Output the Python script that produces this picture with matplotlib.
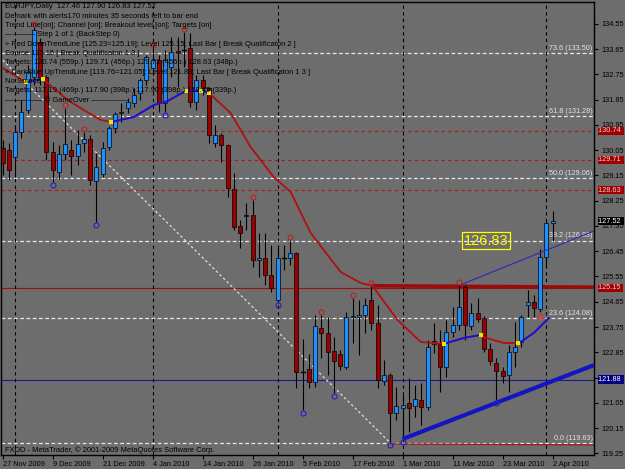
import matplotlib
matplotlib.use("Agg")
import matplotlib.pyplot as plt
import matplotlib.transforms as mtransforms

plt.rcParams['font.family'] = ['Liberation Sans', 'DejaVu Sans']

# daily candles EURJPY, 27 Nov 2009 .. 2 Apr 2010 (bar index 0..88)
opens = [130.13, 130.06, 129.81, 130.70, 131.48, 132.66, 133.90, 132.66, 129.99, 129.27,
         129.91, 130.06, 129.84, 130.31, 130.45, 128.95, 129.20, 130.16, 130.84, 131.37,
         131.55, 131.73, 132.09, 132.55, 132.98, 133.26, 131.73, 133.01, 133.58, 133.62,
         133.69, 131.77, 132.55, 132.26, 130.31, 130.59, 130.23, 128.67, 127.35, 127.74,
         127.74, 126.14, 126.21, 125.60, 124.71, 126.21, 126.21, 126.39, 122.15, 122.25,
         121.79, 123.71, 123.54, 122.90, 122.79, 122.33, 124.11, 124.11, 124.18, 124.71,
         123.89, 121.83, 122.04, 120.69, 120.87, 121.04, 120.94, 121.15, 120.90, 123.25,
         123.14, 122.33, 123.57, 123.82, 125.18, 123.79, 124.25, 124.07, 122.97, 122.47,
         122.18, 122.04, 122.86, 123.22, 124.53, 124.64, 124.39, 126.24, 127.46]
highs = [130.41, 130.31, 130.95, 131.84, 133.08, 134.44, 134.05, 132.73, 130.34, 130.23,
         131.55, 130.41, 130.77, 130.70, 130.59, 129.95, 130.34, 130.91, 131.41, 131.73,
         131.91, 132.27, 132.62, 133.44, 133.69, 133.44, 133.62, 134.08, 134.08, 134.26,
         134.22, 132.73, 132.73, 132.30, 130.95, 130.66, 130.27, 129.24, 127.56, 128.17,
         128.28, 127.10, 127.10, 126.67, 126.60, 126.67, 126.85, 126.42, 123.32, 122.79,
         124.18, 124.18, 124.11, 123.39, 122.93, 124.29, 124.78, 124.71, 124.78, 125.21,
         124.53, 122.57, 122.11, 121.61, 121.33, 121.93, 121.68, 121.76, 123.29, 123.89,
         123.64, 124.00, 124.46, 125.25, 125.25, 124.61, 124.80, 124.14, 123.18, 122.65,
         122.33, 123.11, 123.93, 124.18, 125.07, 124.89, 126.53, 127.56, 127.90]
lows = [129.17, 128.99, 129.09, 130.48, 131.37, 132.37, 132.37, 129.70, 128.92, 129.02,
        129.70, 129.17, 129.52, 129.99, 128.81, 127.49, 129.09, 130.06, 130.66, 131.05,
        131.37, 131.59, 131.84, 132.37, 132.73, 131.41, 131.41, 132.66, 132.30, 133.01,
        131.59, 131.48, 132.02, 130.31, 130.16, 129.63, 128.38, 127.21, 126.57, 127.21,
        125.89, 125.53, 125.25, 124.98, 124.64, 125.78, 125.96, 121.58, 120.79, 121.58,
        121.61, 122.65, 122.04, 121.40, 122.22, 122.25, 123.18, 122.75, 123.54, 123.64,
        121.58, 121.68, 119.63, 120.44, 119.76, 120.01, 120.54, 120.26, 120.79, 122.82,
        121.44, 121.97, 123.39, 123.64, 123.29, 123.64, 123.93, 122.86, 122.40, 121.15,
        121.76, 121.44, 122.33, 123.04, 124.11, 124.11, 124.29, 125.89, 126.83]
closes = [129.59, 129.34, 130.70, 131.41, 132.83, 134.33, 132.62, 129.99, 129.34, 129.91,
          130.27, 129.84, 130.27, 130.45, 128.99, 129.45, 130.13, 130.84, 131.34, 131.41,
          131.77, 132.02, 132.55, 133.37, 133.26, 131.73, 133.26, 133.55, 133.51, 133.60,
          131.77, 132.55, 132.26, 130.59, 130.59, 130.23, 128.70, 127.31, 127.10, 127.70,
          126.14, 126.21, 125.60, 125.14, 126.21, 126.19, 126.39, 122.15, 122.13, 121.79,
          123.80, 123.54, 122.86, 122.54, 122.36, 124.11, 124.14, 124.18, 124.53, 123.89,
          121.86, 122.04, 120.69, 120.94, 120.97, 120.87, 121.19, 120.90, 123.04, 123.14,
          122.33, 123.57, 123.82, 124.46, 123.82, 124.25, 124.04, 122.97, 122.54, 122.18,
          122.01, 122.86, 123.04, 124.11, 124.64, 124.43, 126.24, 127.46, 127.52]

# moving average read at some bars, and where it is drawn blue
ma_idx = [0, 3.7, 6.4, 10.4, 13, 15.7, 17.3, 18.1, 21, 24.2, 26.4, 29.3, 31.7, 33,
          36.5, 39.7, 43.4, 46.1, 49.3, 54.1, 57.3, 59.2, 63.2, 66.9, 69, 70.6,
          73.8, 76.5, 77, 80.2, 82.4, 82.9, 85, 87.4]
ma_val = [132.98, 132.48, 132.59, 131.84, 131.48, 131.13, 131.05, 131.09, 131.23, 131.66,
          131.80, 132.16, 132.16, 132.09, 131.37, 130.16, 129.09, 128.56, 127.10, 125.71,
          125.32, 125.21, 124.00, 123.22, 123.18, 123.15, 123.36, 123.47, 123.39, 123.18,
          123.18, 123.22, 123.54, 124.07]
ma_blue = [(3.7, 6.4), (17.3, 33), (70.6, 76.5), (82.4, 87.4)]
yellow_idx = [3.7, 6.4, 17.3, 29.3, 31.7, 33, 70.6, 76.5, 82.4]

up_fractals = [5, 10, 13, 24, 29, 40, 46, 51, 56, 59, 73]
down_fractals = [8, 15, 26, 44, 48, 53, 62, 64, 79]

fib_pct = ['0.0', '23.6', '38.2', '50.0', '61.8', '73.6']
fib_price = [119.63, 124.08, 126.83, 129.06, 131.28, 133.50]
targets = [130.74, 129.71, 128.63]
red_level = 125.15
blue_level = 121.88
up_trend = [(64, 119.76), (79, 121.05)]
channel = [(73, 125.23), (94.6, 127.17)]
diag = [(0, 133.26), (62, 119.63)]
separators = [2, 24, 44, 64, 87]

date_idx = [0, 8, 16, 24, 32, 40, 48, 56, 64, 72, 80, 88]
date_lbl = ['27 Nov 2009', '9 Dec 2009', '21 Dec 2009', '4 Jan 2010', '14 Jan 2010',
            '26 Jan 2010', '5 Feb 2010', '17 Feb 2010', '1 Mar 2010', '11 Mar 2010',
            '23 Mar 2010', '2 Apr 2010']
price_ticks = [119.25, 120.15, 121.05, 121.95, 122.85, 123.75, 124.65, 125.55, 126.45,
               127.35, 128.25, 129.15, 130.05, 130.95, 131.85, 132.75, 133.65, 134.55]
# 121.95 sits fully under the 121.88 tag
hidden_ticks = [121.95]

info = ['EURJPY,Daily  127.46 127.90 126.83 127.52',
        'Demark with alerts170 minutes 35 seconds left to bar end',
        'Trend Line[on]; Channel [on]; Breakout level [on]; Targets [on]',
        '\u2014\u2014\u2014\u2014 Step 1 of 1 (BackStep 0)',
        '\u00bb Red DownTrendLine [125.23=125.19]; Level 125.15; Last Bar [ Break Qualificaton 2 ]',
        'Source 125.15 [ Break Qualificaton 1 3 ]',
        'Targets: 130.74 (559p.) 129.71 (456p.) 129.71 (456p.) 128.63 (348p.)',
        '\u00bb DarkBlue UpTrendLine [119.76=121.05]; Level 121.88; Last Bar [ Break Qualificaton 1 3 ]',
        'No Source',
        'Targets: 117.19 (469p.) 117.90 (398p.) 117.90 (398p.) 118.49 (339p.)',
        '\u2014\u2014\u2014\u2014\u2014 \u00a9 GameOver \u2014\u2014\u2014\u2014\u2014']

BG = '#6d6d6d'
fig = plt.figure(figsize=(6.25, 4.69), dpi=100, facecolor=BG)
ax = fig.add_axes([1/625, 1 - 455/469, 593/625, 453/469], facecolor=BG)
ax.set_xlim(-0.25, 94.63)
ax.set_ylim(119.19, 135.33)

# horizontal levels
for p in fib_price:
    ax.axhline(p, color='#e8e8e8', lw=0.9, dashes=(3, 2), zorder=1)
for p in targets:
    ax.axhline(p, color='#b01818', lw=0.8, dashes=(3, 3), zorder=1)
ax.axhline(red_level, color='#a01010', lw=0.8, zorder=1)
ax.plot([59, 94.63], [125.22, 125.17], color='#9a0c0c', lw=2.6, zorder=2, solid_capstyle='butt')
ax.axhline(blue_level, color='#1a1a90', lw=0.8, zorder=1)
ax.plot([62, 94.63], [119.58, 119.55], color='#b01010', lw=0.9, zorder=1)
for s in separators:
    ax.axvline(s, color='black', lw=0.8, dashes=(3, 3), zorder=1)
ax.plot([diag[0][0], diag[1][0]], [diag[0][1], diag[1][1]], color='#e0e0e0', lw=0.9,
        dashes=(2, 2), zorder=1)

# candles
xs = list(range(len(opens)))
ax.vlines(xs, lows, highs, color='black', lw=0.8, zorder=3)
for i in xs:
    o, c = opens[i], closes[i]
    col = '#1e90ff' if c >= o else '#990000'
    h = c - o
    if abs(h) < 0.03:
        ax.plot([i - 0.32, i + 0.32], [o, o], color='black', lw=1.0, zorder=4)
    else:
        ax.bar(i, h, bottom=o, width=0.64, color=col, edgecolor='black', lw=0.5, zorder=4)

# moving average, red below price, blue above
ax.plot(ma_idx, ma_val, color='#b01010', lw=1.3, zorder=5)
for a, b in ma_blue:
    seg = [(x, v) for x, v in zip(ma_idx, ma_val) if a <= x <= b]
    ax.plot([s[0] for s in seg], [s[1] for s in seg], color='#1212e6', lw=1.3, zorder=5)
yv = [ma_val[ma_idx.index(x)] for x in yellow_idx]
ax.plot(yellow_idx, yv, 's', color='#e8e800', ms=2.2, zorder=6, mew=0)

# trend lines
slope = (up_trend[1][1] - up_trend[0][1]) / (up_trend[1][0] - up_trend[0][0])
ax.plot([up_trend[0][0], 94.63], [up_trend[0][1], up_trend[0][1] + slope * (94.63 - up_trend[0][0])],
        color='#1515c0', lw=3, zorder=6, solid_capstyle='butt')
ax.plot([channel[0][0], channel[1][0]], [channel[0][1], channel[1][1]], color='#2a2ab8',
        lw=0.8, zorder=6)

# fractals
ax.plot(up_fractals, [highs[i] + 0.1 for i in up_fractals], 'o', mfc='none', mec='#c02020',
        ms=3.6, mew=0.8, zorder=7)
ax.plot(down_fractals, [lows[i] - 0.1 for i in down_fractals], 'o', mfc='none', mec='#2020d0',
        ms=3.6, mew=0.8, zorder=7)
ax.plot([86], [lows[86] - 0.12], '^', mfc='none', mec='#e03030', ms=4, mew=0.8, zorder=7)

# fib labels
for pct, p in zip(fib_pct, fib_price):
    ax.text(94.4, p + 0.04, '%s (%.2f)' % (pct, p), ha='right', va='bottom',
            color='#e4e4e4', fontsize=5.2, zorder=2)

ax.text(73.75, 126.83, '126.83', color='#ffff00', fontsize=10.5, va='center', ha='left',
        zorder=8, bbox=dict(boxstyle='square,pad=0.12', fc='none', ec='#ffff00', lw=0.9))

# axes
for sp in ax.spines.values():
    sp.set_color('black')
    sp.set_linewidth(1.0)
ax.yaxis.tick_right()
ax.set_yticks(price_ticks)
ax.set_yticklabels(['' if t in hidden_ticks else '%.2f' % t for t in price_ticks])
ax.set_xticks(date_idx)
ax.set_xticklabels(date_lbl)
for lab in ax.get_xticklabels():
    lab.set_horizontalalignment('left')
ax.tick_params(axis='both', colors='black', labelcolor='black', labelsize=5.3,
               length=3, width=0.8, direction='out')
ax.tick_params(axis='y', pad=2)
ax.tick_params(axis='x', pad=1)

# price tags on the right scale
trans = mtransforms.blended_transform_factory(ax.transAxes, ax.transData)
tags = [(130.74, '#a00000', '#f0d0d0'), (129.71, '#a00000', '#f0d0d0'),
        (128.63, '#a00000', '#f0d0d0'), (127.52, '#000000', '#ffffff'),
        (125.15, '#a00000', '#f0d0d0'), (121.88, '#000080', '#ffffff')]
for p, fc, tc in tags:
    ax.text(1.0075, p, '%.2f ' % p, transform=trans, ha='left', va='center', fontsize=5.3,
            color=tc, zorder=10, clip_on=False,
            bbox=dict(boxstyle='square,pad=0.08', fc=fc, ec='none'))

for k, line in enumerate(info):
    ypx = 7 + k * 9.3
    fig.text(5/625, 1 - ypx/469, line, fontsize=5.4, color='black', va='center', ha='left')
fig.text(5/625, 1 - 450/469, 'FXDD - MetaTrader, \u00a9 2001-2009 MetaQuotes Software Corp.',
         fontsize=5.4, color='black', va='center', ha='left')

fig.savefig('out.png', dpi=100, facecolor=BG)
